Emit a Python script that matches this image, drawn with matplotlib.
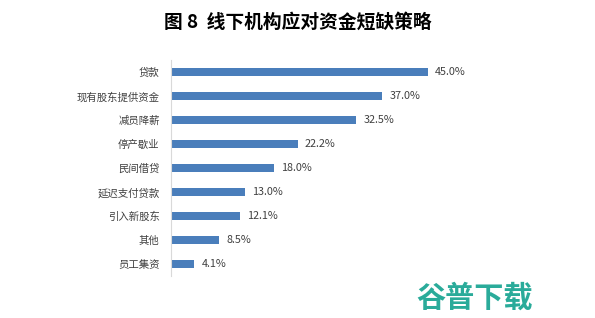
import matplotlib
matplotlib.use("Agg")
import matplotlib.pyplot as plt

plt.rcParams["font.family"] = ["Noto Sans CJK SC", "DejaVu Sans"]

# ── Data ──
categories = ["贷款", "现有股东提供资金", "减员降薪", "停产歇业", "民间借贷",
              "延迟支付贷款", "引入新股东", "其他", "员工集资"]
values = [45.0, 37.0, 32.5, 22.2, 18.0, 13.0, 12.1, 8.5, 4.1]

BAR_COLOR = "#4a7ebb"

fig = plt.figure(figsize=(5.95, 3.18), dpi=100)
ax = fig.add_axes([0.287, 0.132, 0.576, 0.679])

y = list(range(len(categories)))
ax.barh(y, values, height=0.3, color=BAR_COLOR)
ax.set_ylim(len(categories) - 0.5, -0.5)
ax.set_xlim(0, 60)

for yi, v in zip(y, values):
    ax.text(v + 1.3, yi, f"{v:.1f}%", va="center", ha="left",
            fontsize=7.8, color="#404040")

ax.set_yticks(y)
ax.set_yticklabels(categories, fontsize=7.5, color="#404040")
ax.tick_params(axis="y", length=0, pad=8)
ax.set_xticks([])
for s in ["top", "right", "bottom"]:
    ax.spines[s].set_visible(False)
ax.spines["left"].set_color("#d9d9d9")
ax.spines["left"].set_linewidth(0.8)

fig.text(0.5, 0.93, "图 8  线下机构应对资金短缺策略", ha="center", va="center",
         fontsize=13.5, fontweight="heavy", color="black")

fig.text(0.798, 0.065, "谷普下载", ha="center", va="center",
         fontsize=21, fontweight="heavy", color="#2aab9a")

fig.savefig("out.png", dpi=100)
